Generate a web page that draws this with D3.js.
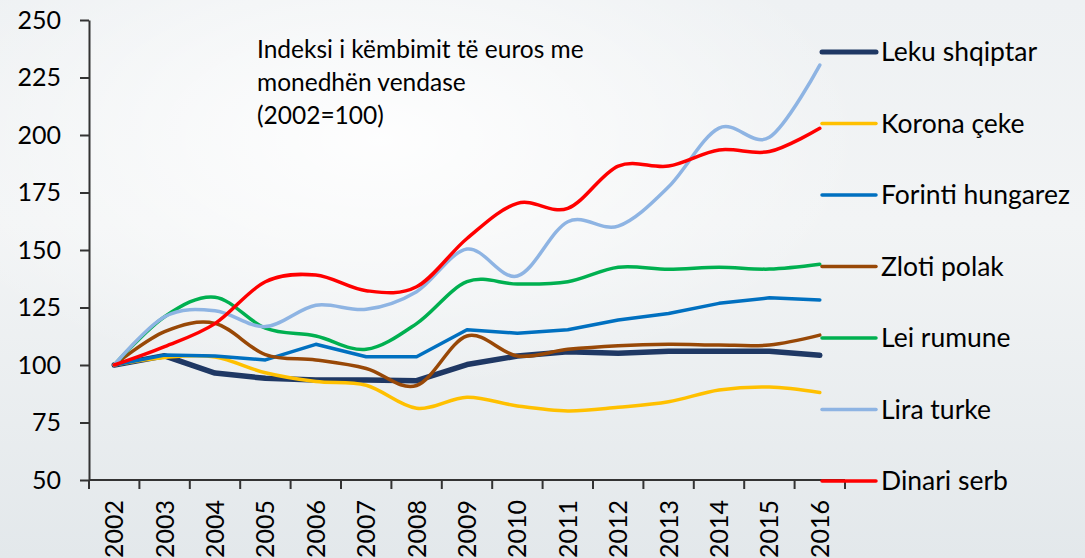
<!DOCTYPE html>
<html>
<head>
<meta charset="utf-8">
<script src="https://cdn.jsdelivr.net/npm/d3@7"></script>
<style>
  body { margin: 0; }
  svg { display: block; font-family: Lato, "Open Sans", sans-serif; }
</style>
</head>
<body>
<svg width="1085" height="558"></svg>
<script>
// Data
const years = ["2002","2003","2004","2005","2006","2007","2008","2009","2010","2011","2012","2013","2014","2015","2016"];

const leku    = [100, 104, 96.5, 94.2, 93.5, 93.5, 93.2, 100.2, 103.9, 105.8, 105.1, 106, 106, 106, 104.2];
const korona  = [100, 103.3, 103.5, 96.6, 92.8, 91.2, 81.2, 86.0, 82.2, 80, 81.6, 84, 89.1, 90.4, 88];
const forinti = [100, 104.3, 103.9, 102.2, 109, 103.6, 103.6, 115.3, 113.8, 115.3, 119.6, 122.4, 126.8, 129.2, 128.3];
const zloti   = [100, 114.5, 118.1, 104.5, 102.2, 98.5, 91.1, 112.6, 103.9, 106.8, 108.4, 109, 108.7, 108.7, 113];
const lei     = [100, 121, 129.5, 116, 112.6, 106.8, 118, 136.2, 135.2, 136.2, 142.5, 141.6, 142.5, 141.7, 143.8];
const lira    = [100, 121, 123.6, 116.7, 126, 124.2, 131.9, 150.4, 138.7, 162.3, 160.4, 177.5, 203, 199, 230.4];
const dinari  = [100, 108, 118, 136.2, 139.1, 132.3, 134, 155, 170.3, 168.1, 186.5, 186.5, 193.5, 192.8, 202.9];

const yTicks = [50, 75, 100, 125, 150, 175, 200, 225, 250];
const titleLines = ["Indeksi i këmbimit të euros me", "monedhën vendase", "(2002=100)"];

const series = [
  { name: "Leku shqiptar",    values: leku,    color: "#1f3864", width: 5.5, smooth: false },
  { name: "Korona çeke",      values: korona,  color: "#ffc000", width: 3.5, smooth: true },
  { name: "Forinti hungarez", values: forinti, color: "#0070c0", width: 3.5, smooth: false },
  { name: "Zloti polak",      values: zloti,   color: "#984807", width: 3.5, smooth: true },
  { name: "Lei rumune",       values: lei,     color: "#00b050", width: 3.5, smooth: true },
  { name: "Lira turke",       values: lira,    color: "#8eb4e3", width: 3.5, smooth: true },
  { name: "Dinari serb",      values: dinari,  color: "#ff0000", width: 3.5, smooth: true }
];

const svg = d3.select("svg");
const width = 1085, height = 558;

// Background, light washed-out photo look
const defs = svg.append("defs");
const bg = defs.append("linearGradient").attr("id", "bg").attr("x1", 0).attr("y1", 0).attr("x2", 0).attr("y2", 1);
bg.append("stop").attr("offset", "0%").attr("stop-color", "#eef1f3");
bg.append("stop").attr("offset", "40%").attr("stop-color", "#f2f4f5");
bg.append("stop").attr("offset", "100%").attr("stop-color", "#e3e8eb");
const glow = defs.append("radialGradient").attr("id", "glow").attr("cx", 0.35).attr("cy", 0.25).attr("r", 0.45);
glow.append("stop").attr("offset", "0%").attr("stop-color", "#ffffff").attr("stop-opacity", 0.9);
glow.append("stop").attr("offset", "100%").attr("stop-color", "#ffffff").attr("stop-opacity", 0);

svg.append("rect").attr("width", width).attr("height", height).attr("fill", "url(#bg)");
svg.append("rect").attr("width", width).attr("height", height).attr("fill", "url(#glow)");

// Scales
const x = d3.scaleBand().domain(years).range([89, 845]);
const y = d3.scaleLinear().domain([50, 250]).range([480, 20]);
const cx = d => x(d) + x.bandwidth() / 2;

// Y axis
const yAxis = svg.append("g")
  .attr("transform", "translate(89,0)")
  .call(d3.axisLeft(y).tickValues(yTicks).tickSize(9).tickSizeOuter(0).tickPadding(19));
yAxis.select(".domain").attr("stroke", "#333").attr("stroke-width", 2);
yAxis.selectAll(".tick line").attr("stroke", "#333").attr("stroke-width", 2);
yAxis.selectAll("text").attr("font-size", 25).attr("fill", "#000").style("font-family", "Lato, sans-serif");

// X axis: line + boundary ticks + rotated labels
const xAxis = svg.append("g");
xAxis.append("line")
  .attr("x1", x.range()[0]).attr("x2", x.range()[1])
  .attr("y1", y(50)).attr("y2", y(50))
  .attr("stroke", "#333").attr("stroke-width", 2);
const bounds = years.map(d => x(d)).concat([x.range()[1]]);
xAxis.selectAll(".xtick").data(bounds).enter().append("line")
  .attr("x1", d => d).attr("x2", d => d)
  .attr("y1", y(50)).attr("y2", y(50) + 9)
  .attr("stroke", "#333").attr("stroke-width", 2);
xAxis.selectAll(".xlabel").data(years).enter().append("text")
  .attr("transform", d => `translate(${cx(d)},${y(50) + 20}) rotate(-90)`)
  .attr("text-anchor", "end")
  .attr("dy", "0.36em")
  .attr("font-size", 25)
  .attr("fill", "#000")
  .text(d => d);

// Lines
series.forEach(s => {
  const line = d3.line()
    .x((v, i) => cx(years[i]))
    .y(v => y(v))
    .curve(s.smooth ? d3.curveCatmullRom.alpha(0) : d3.curveLinear);
  svg.append("path")
    .datum(s.values)
    .attr("d", line)
    .attr("fill", "none")
    .attr("stroke", s.color)
    .attr("stroke-width", s.width)
    .attr("stroke-linejoin", "round")
    .attr("stroke-linecap", "round");
});

// Legend
const legend = svg.append("g").attr("transform", "translate(822,52)");
series.forEach((s, i) => {
  const g = legend.append("g").attr("transform", `translate(0,${i * 71.5})`);
  g.append("line")
    .attr("x1", 0).attr("x2", 54)
    .attr("stroke", s.color)
    .attr("stroke-width", i === 0 ? 5 : 3.5)
    .attr("stroke-linecap", "round");
  g.append("text")
    .attr("x", 59).attr("dy", "0.35em")
    .attr("font-size", 26.5)
    .attr("fill", "#000")
    .text(s.name);
});

// Title inside plot
svg.append("g").selectAll("text").data(titleLines).enter().append("text")
  .attr("x", 257)
  .attr("y", (d, i) => 58 + i * 33)
  .attr("font-size", 24.5)
  .attr("fill", "#000")
  .text(d => d);
</script>
</body>
</html>
